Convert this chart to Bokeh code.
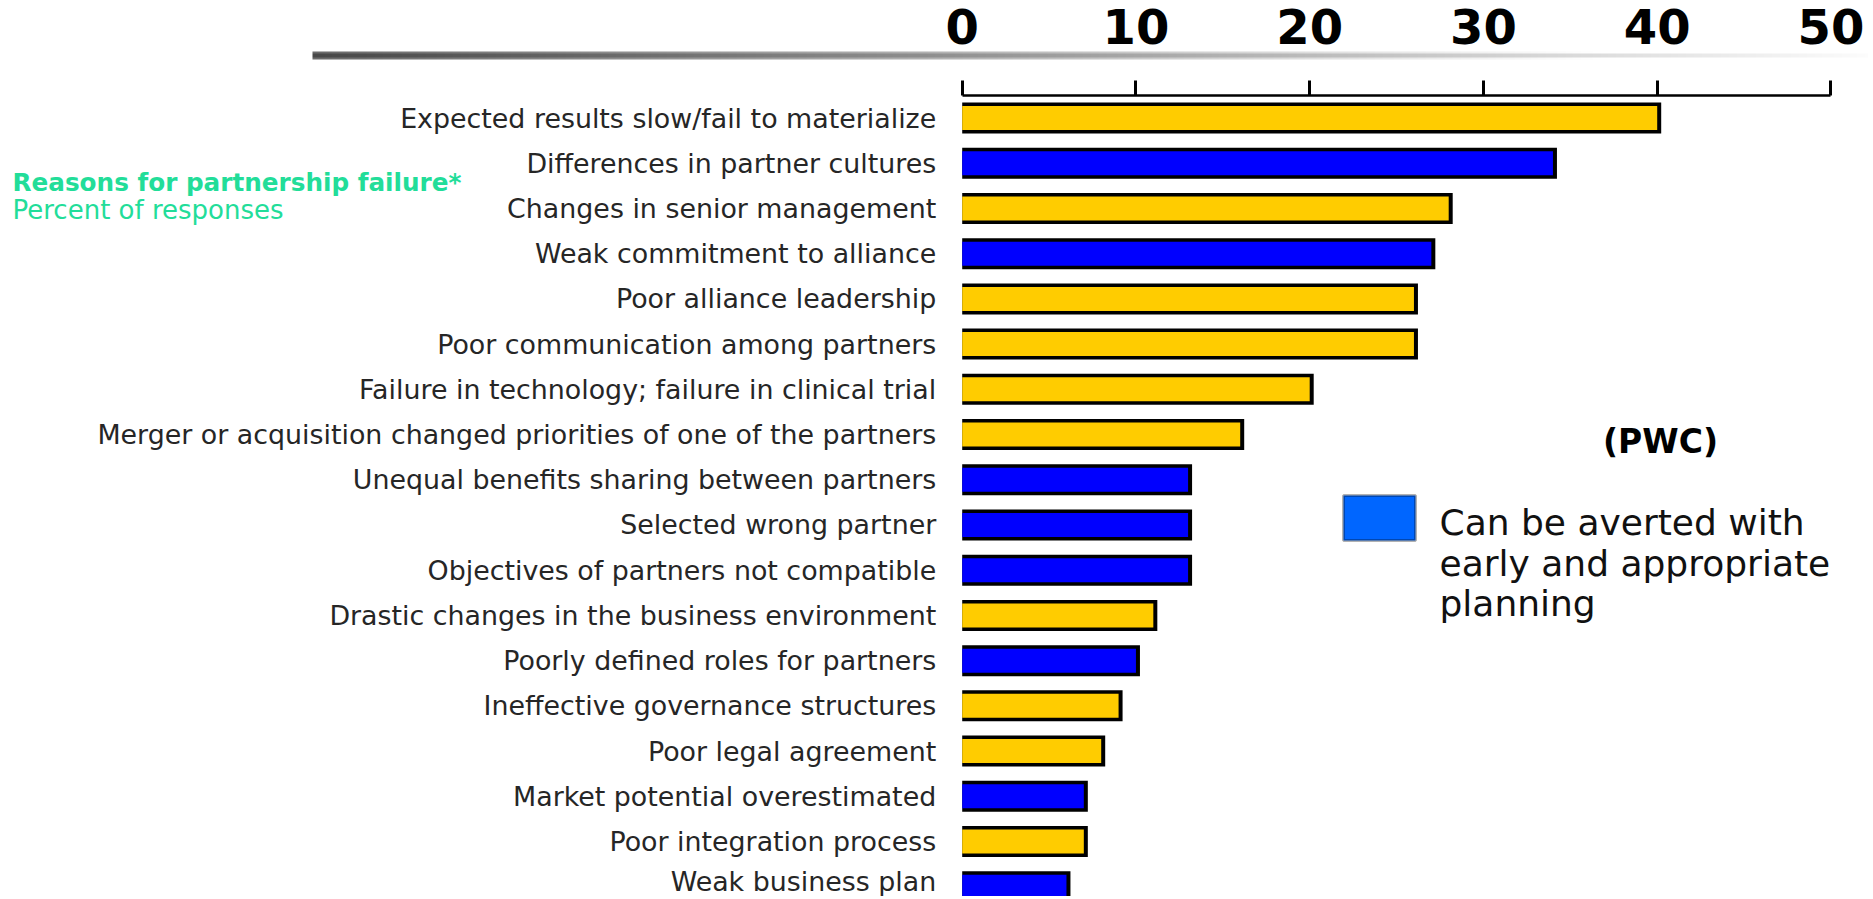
import numpy as np
from bokeh.plotting import figure
from bokeh.models import (Range1d, LinearAxis, FixedTicker, Label, BoxAnnotation,
                          ColumnDataSource)
from bokeh.embed import file_html
from bokeh.resources import INLINE

# ---------------- data ----------------
categories = [
    "Expected results slow/fail to materialize",
    "Differences in partner cultures",
    "Changes in senior management",
    "Weak commitment to alliance",
    "Poor alliance leadership",
    "Poor communication among partners",
    "Failure in technology; failure in clinical trial",
    "Merger or acquisition changed priorities of one of the partners",
    "Unequal benefits sharing between partners",
    "Selected wrong partner",
    "Objectives of partners not compatible",
    "Drastic changes in the business environment",
    "Poorly defined roles for partners",
    "Ineffective governance structures",
    "Poor legal agreement",
    "Market potential overestimated",
    "Poor integration process",
    "Weak business plan",
]
values = [40, 34, 28, 27, 26, 26, 20, 16, 13, 13, 13, 11, 10, 9, 8, 7, 7, 6]
averted = [False, True, False, True, False, False, False, False, True, True,
           True, False, True, False, False, True, False, True]
x_ticks = [0, 10, 20, 30, 40, 50]
title_main = "Reasons for partnership failure*"
title_sub = "Percent of responses"
source_note = "(PWC)"
legend_lines = ["Can be averted with", "early and appropriate", "planning"]

# ---------------- layout (page pixels; the figure sits at the page origin) ----------------
W, H = 1868, 896
X0_PAGE = 961.7        # page x of value 0
PX_PER_UNIT = 17.375   # pixels per percent
ROW0_PAGE = 117.5      # page y of first row centre
ROW_PX = 45.22         # row pitch
n = len(categories)


def vx(page_x):
    return (page_x - X0_PAGE) / PX_PER_UNIT


def vy(page_y):
    return (n - 1) - (page_y - ROW0_PAGE) / ROW_PX


p = figure(width=W, height=H, output_backend="svg", toolbar_location=None,
           x_range=Range1d(vx(0), vx(W)),
           y_range=Range1d(vy(H), vy(0)),
           x_axis_location=None, y_axis_location=None,
           min_border=0, outline_line_color=None, background_fill_color="white",
           border_fill_color="white")
p.xgrid.visible = False
p.ygrid.visible = False

# gradient rule under the tick numbers
NG = 400
img = np.zeros((4, NG), dtype=np.uint32)
view = img.view(dtype=np.uint8).reshape((4, NG, 4))
t = np.linspace(0, 1, NG)
g = 72 + 180 * t
for r in range(4):
    edge = 35 if r in (0, 3) else 0
    gg = np.clip(g + edge, 0, 255).astype(np.uint8)
    view[r, :, 0] = gg
    view[r, :, 1] = gg
    view[r, :, 2] = gg
    view[r, :, 3] = 255
p.image_rgba(image=[img], x=vx(312), y=vy(59), dw=vx(W) - vx(312),
             dh=vy(51) - vy(59))

# bars
ypos = [n - 1 - i for i in range(n)]
border_units = 4 / PX_PER_UNIT
src = ColumnDataSource(dict(
    cat=categories, value=values, y=ypos,
    outer=[v + border_units for v in values],
    color=["#0000FF" if a else "#FFCC00" for a in averted],
))
p.hbar(y="y", left=0, right="outer", height=31 / ROW_PX, fill_color="black",
       line_color=None, source=src)
p.hbar(y="y", left=0, right="value", height=24 / ROW_PX, fill_color="color",
       line_color=None, source=src)

# category axis (left, fixed at value 0)
yaxis = LinearAxis(ticker=FixedTicker(ticks=ypos),
                   major_label_overrides={y: c for y, c in zip(ypos, categories)},
                   fixed_location=0,
                   axis_line_color=None, major_tick_line_color=None,
                   minor_tick_line_color=None, major_tick_in=0, major_tick_out=0,
                   major_label_standoff=26,
                   major_label_text_font="DejaVu Sans",
                   major_label_text_font_size="26.85px",
                   major_label_text_color="#262626")
p.add_layout(yaxis, "left")

# value axis (top)
xaxis = LinearAxis(ticker=FixedTicker(ticks=x_ticks),
                   fixed_location=vy(95), bounds=(0, 50),
                   axis_line_color="black", axis_line_width=2.5,
                   major_tick_line_color="black", major_tick_line_width=3,
                   major_tick_in=0, major_tick_out=15,
                   minor_tick_line_color=None,
                   major_label_standoff=37,
                   major_label_text_font="DejaVu Sans",
                   major_label_text_font_style="bold",
                   major_label_text_font_size="48px",
                   major_label_text_color="black")
p.add_layout(xaxis, "above")

# titles
p.add_layout(Label(x=vx(12), y=vy(181.5), text=title_main,
                   text_font="DejaVu Sans", text_font_style="bold",
                   text_font_size="24.7px", text_color="#22DD99",
                   text_baseline="middle"))
p.add_layout(Label(x=vx(12), y=vy(209), text=title_sub,
                   text_font="DejaVu Sans", text_font_size="26px",
                   text_color="#22DD99", text_baseline="middle"))

# source note
p.add_layout(Label(x=vx(1660), y=vy(441), text=source_note,
                   text_font="DejaVu Sans", text_font_style="bold",
                   text_font_size="33px", text_color="black",
                   text_align="center", text_baseline="middle"))

# legend swatch + text
p.add_layout(BoxAnnotation(left=vx(1343), right=vx(1415), top=vy(495),
                           bottom=vy(540), fill_color="#0066FF", fill_alpha=1,
                           line_color="black", line_width=3))
for k, line in enumerate(legend_lines):
    p.add_layout(Label(x=vx(1439), y=vy(522 + k * 40.6), text=line,
                       text_font="DejaVu Sans", text_font_size="36px",
                       text_color="#111111", text_baseline="middle"))

open("out.html", "w").write(file_html(p, INLINE))
